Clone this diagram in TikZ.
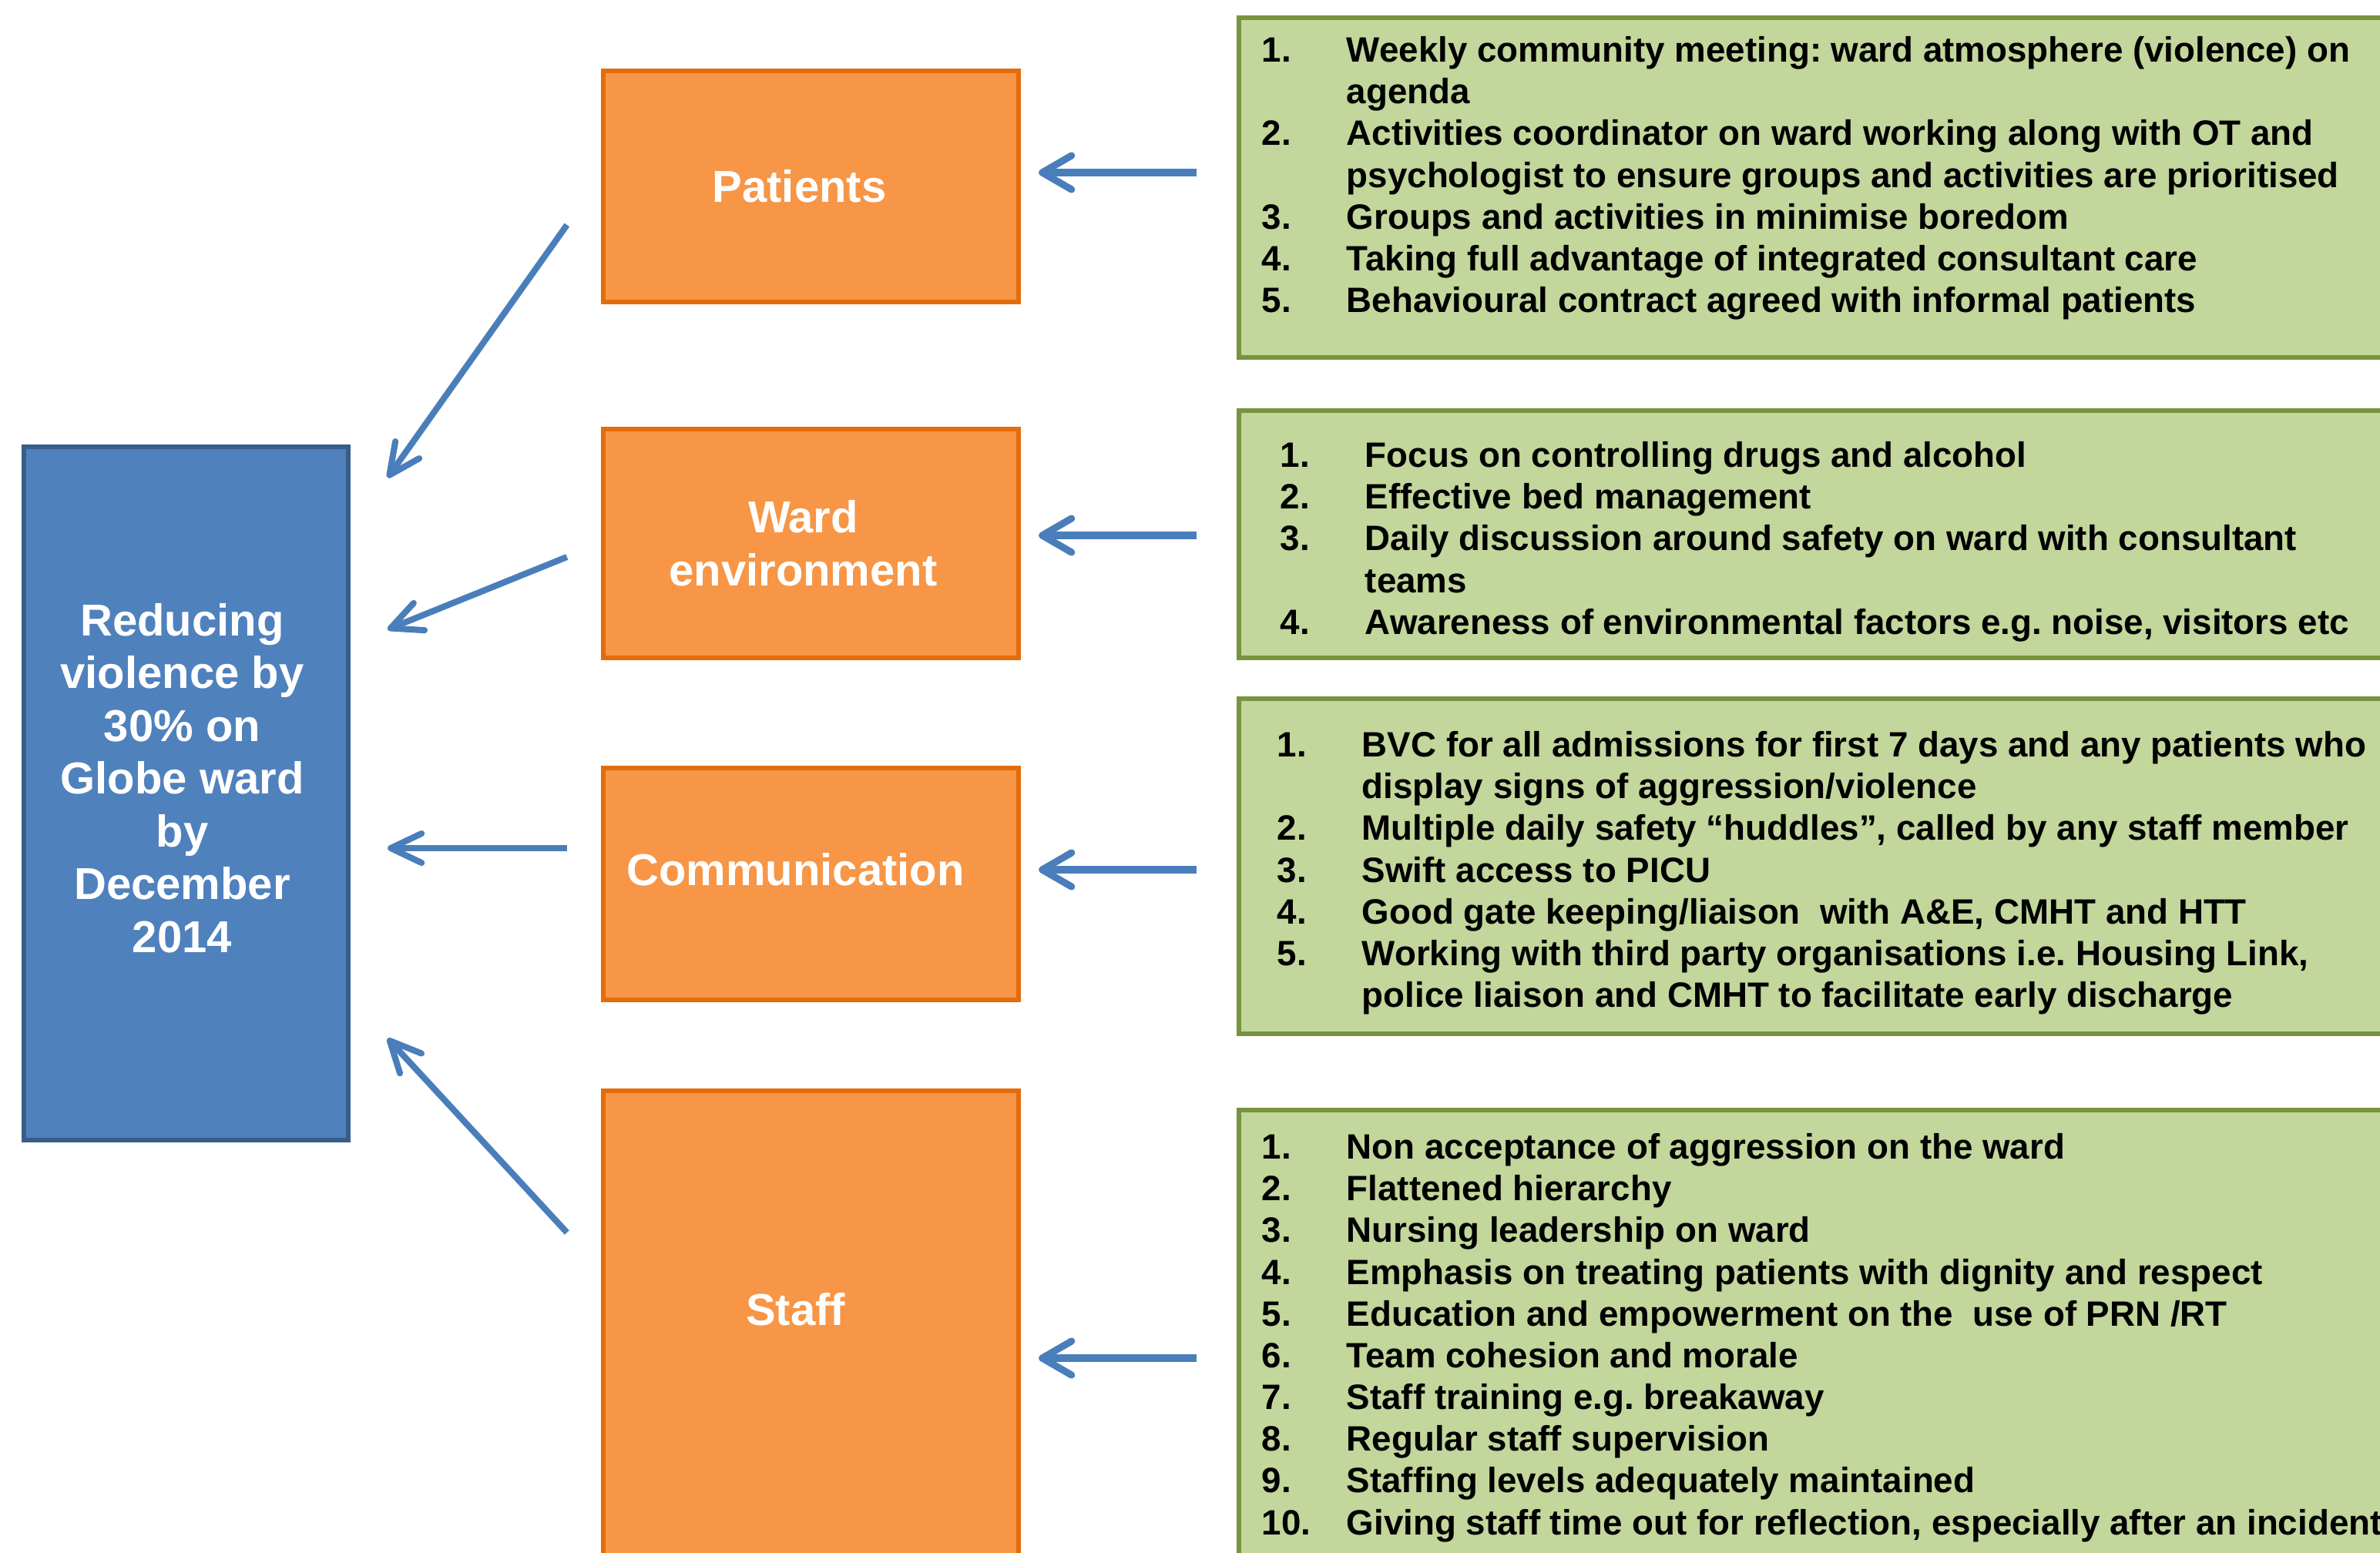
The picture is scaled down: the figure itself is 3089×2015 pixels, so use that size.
\documentclass[tikz,border=0pt]{standalone}
\usepackage{fontspec}
\setmainfont{Liberation Sans}
\usetikzlibrary{arrows.meta,positioning}

\definecolor{goalblue}{HTML}{4F81BD}
\definecolor{goaledge}{HTML}{385D8A}
\definecolor{catfill}{HTML}{F79646}
\definecolor{catedge}{HTML}{E46C0A}
\definecolor{actfill}{HTML}{C3D69B}
\definecolor{actedge}{HTML}{77933C}
\definecolor{arrblue}{HTML}{4A7EBB}

\begin{document}
\begin{tikzpicture}[
    x=0.01cm, y=-0.01cm,
    goalbox/.style={
        draw=goaledge,
        fill=goalblue,
        line width=1.7pt,
        minimum width=4.21cm,
        minimum height=9cm,
        inner sep=0pt
    },
    goaltext/.style={
        text=white,
        align=center,
        font=\fontsize{16.5}{19.5}\selectfont\bfseries
    },
    catbox/.style={
        draw=catedge,
        fill=catfill,
        line width=1.7pt,
        minimum width=5.39cm,
        minimum height=3cm,
        inner sep=0pt,
        text=white,
        align=center,
        font=\fontsize{16.5}{19.5}\selectfont\bfseries
    },
    actbox/.style={
        draw=actedge,
        fill=actfill,
        line width=1.7pt,
        minimum width=16cm,
        anchor=north west,
        inner sep=0pt
    },
    actlist/.style={
        anchor=north west,
        inner sep=0pt,
        font=\fontsize{13}{15.4}\selectfont\bfseries\frenchspacing
    },
    feedarrow/.style={
        draw=arrblue,
        line width=2.6pt,
        -{Straight Barb[length=0.38cm,width=0.44cm,round]}
    },
    leadarrow/.style={
        draw=arrblue,
        line width=2.3pt,
        -{Straight Barb[length=0.4cm,width=0.38cm,round]}
    }
]

\fill[white] (0,0) rectangle (3089,2015);
\clip (0,0) rectangle (3089,2015);

% goal
\node[goalbox] (goal) at (241.5,1030) {};
\node[goaltext] (goaltxt) at ([xshift=-0.05cm,yshift=0.2cm]goal.center) {Reducing\\violence by\\30\% on\\Globe ward\\by\\December\\2014};

% categories
\node[catbox] (pat) at (1052.5,242) {Patients\hspace*{0.3cm}};
\node[catbox, minimum height=2.97cm] (ward) at (1052.5,705.5) {Ward\hspace*{0.2cm}\\environment\hspace*{0.2cm}};
\node[catbox, text height=1.51cm, text depth=1.48cm] (comm) at (1052.5,1147.5) {Communication\hspace*{0.4cm}};
\node[catbox, anchor=north, text height=3.04cm, text depth=4cm] (staff) at (1052.5,1413) {Staff\hspace*{0.4cm}};

% actions
\node[actbox, minimum height=4.41cm] (g1) at (1605,20) {};
\node[actbox, minimum height=3.21cm] (g2) at (1605,530) {};
\node[actbox, minimum height=4.35cm] (g3) at (1605,904) {};
\node[actbox, minimum height=7cm] (g4) at (1605,1438) {};

\node[actlist] (l1) at ([xshift=0.32cm,yshift=-0.22cm]g1.north west) {%
\begin{tabular}{@{}p{1.1cm}@{}l@{}}
1. & Weekly community meeting: ward atmosphere (violence) on\\
   & agenda\\
2. & Activities coordinator on ward working along with OT and\\
   & psychologist to ensure groups and activities are prioritised\\
3. & Groups and activities in minimise boredom\\
4. & Taking full advantage of integrated consultant care\\
5. & Behavioural contract agreed with informal patients
\end{tabular}};

\node[actlist] (l2) at ([xshift=0.56cm,yshift=-0.38cm]g2.north west) {%
\begin{tabular}{@{}p{1.1cm}@{}l@{}}
1. & Focus on controlling drugs and alcohol\\
2. & Effective bed management\\
3. & Daily discussion around safety on ward with consultant\\
   & teams\\
4. & Awareness of environmental factors e.g. noise, visitors etc
\end{tabular}};

\node[actlist] (l3) at ([xshift=0.52cm,yshift=-0.40cm]g3.north west) {%
\begin{tabular}{@{}p{1.1cm}@{}l@{}}
1. & BVC for all admissions for first 7 days and any patients who\\
   & display signs of aggression/violence\\
2. & Multiple daily safety “huddles”, called by any staff member\\
3. & Swift access to PICU\\
4. & Good gate keeping/liaison\ \ with A\&E, CMHT and HTT\\
5. & Working with third party organisations i.e. Housing Link,\\
   & police liaison and CMHT to facilitate early discharge
\end{tabular}};

\node[actlist] (l4) at ([xshift=0.32cm,yshift=-0.28cm]g4.north west) {%
\begin{tabular}{@{}p{1.1cm}@{}l@{}}
1.  & Non acceptance of aggression on the ward\\
2.  & Flattened hierarchy\\
3.  & Nursing leadership on ward\\
4.  & Emphasis on treating patients with dignity and respect\\
5.  & Education and empowerment on the\ \ use of PRN /RT\\
6.  & Team cohesion and morale\\
7.  & Staff training e.g. breakaway\\
8.  & Regular staff supervision\\
9.  & Staffing levels adequately maintained\\
10. & Giving staff time out for reflection, especially after an incident
\end{tabular}};

% actions feed the categories
\draw[feedarrow, shorten <=0.52cm, shorten >=0.23cm] (g1.west |- 0,224) -- (pat.east |- 0,224);
\draw[feedarrow, shorten <=0.52cm, shorten >=0.23cm] (g2.west |- 0,695) -- (ward.east |- 0,695);
\draw[feedarrow, shorten <=0.52cm, shorten >=0.23cm] (g3.west |- 0,1129) -- (comm.east |- 0,1129);
\draw[feedarrow, shorten <=0.52cm, shorten >=0.23cm] (g4.west |- 0,1763) -- (staff.east |- 0,1763);

% categories lead to the goal
\draw[leadarrow] ([xshift=-0.44cm]pat.west |- 0,292) -- ([xshift=0.48cm]goal.east |- 0,620);
\draw[leadarrow] ([xshift=-0.44cm]ward.west |- 0,723) -- ([xshift=0.48cm]goal.east |- 0,817);
\draw[leadarrow] ([xshift=-0.44cm]comm.west |- 0,1101) -- ([xshift=0.48cm]goal.east |- 0,1101);
\draw[leadarrow] ([xshift=-0.44cm]staff.west |- 0,1600) -- ([xshift=0.48cm]goal.east |- 0,1348);

\end{tikzpicture}
\end{document}
